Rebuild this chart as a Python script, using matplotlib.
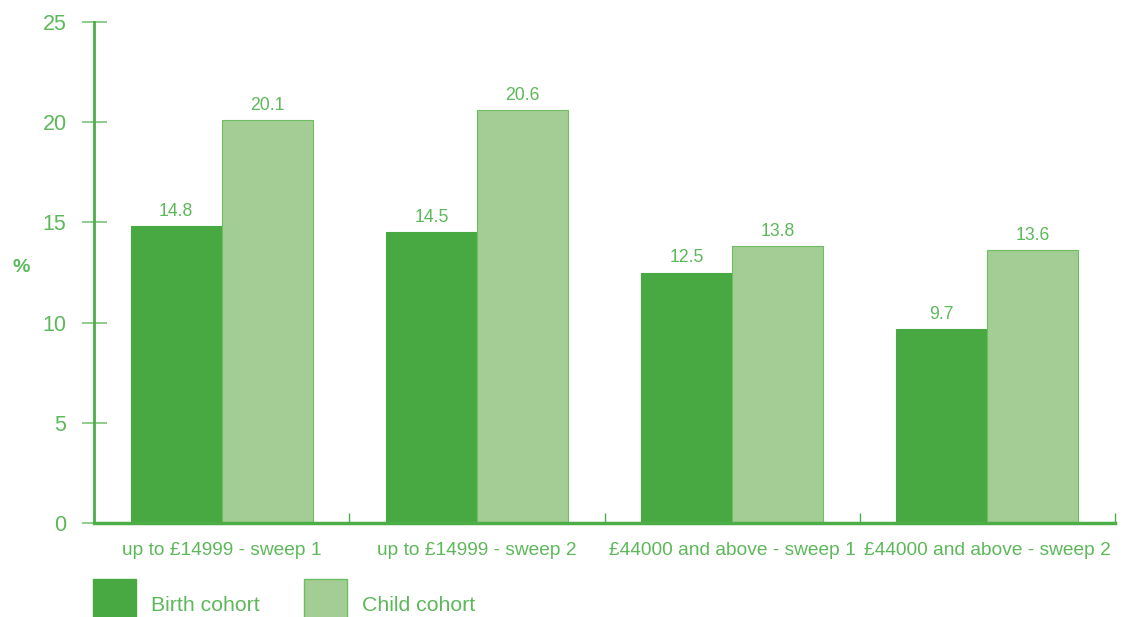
import matplotlib
matplotlib.use("Agg")
import matplotlib.pyplot as plt
import numpy as np
from matplotlib.patches import Patch

categories = ["up to £14999 - sweep 1", "up to £14999 - sweep 2",
              "£44000 and above - sweep 1", "£44000 and above - sweep 2"]
birth_cohort = [14.8, 14.5, 12.5, 9.7]
child_cohort = [20.1, 20.6, 13.8, 13.6]
series_names = ["Birth cohort", "Child cohort"]
y_ticks = [0, 5, 10, 15, 20, 25]

dark = "#48A942"
light = "#A3CD94"
light_edge = "#6DBE63"
text_col = "#5DB85A"
axis_col = "#4DAE48"

plt.rcParams["font.family"] = ["Liberation Sans", "DejaVu Sans"]

fig = plt.figure(figsize=(11.3, 6.17), dpi=100)
ax = fig.add_axes([94 / 1130, 1 - 523 / 617, (1115 - 94) / 1130, (523 - 22) / 617])

x = np.arange(len(categories))
w = 0.357
b1 = ax.bar(x - w / 2, birth_cohort, w, color=dark, edgecolor=dark, linewidth=0.8)
b2 = ax.bar(x + w / 2, child_cohort, w, color=light, edgecolor=light_edge, linewidth=0.8)

for bars in (b1, b2):
    for r in bars:
        ax.text(r.get_x() + r.get_width() / 2, r.get_height() + 0.3, f"{r.get_height():.1f}",
                ha="center", va="bottom", fontsize=12.7, color=text_col)

ax.set_xlim(-0.5, len(categories) - 0.5)
ax.set_ylim(0, 25)

ax.spines["top"].set_visible(False)
ax.spines["right"].set_visible(False)
ax.spines["left"].set_color(axis_col)
ax.spines["left"].set_linewidth(2)
ax.spines["bottom"].set_color(axis_col)
ax.spines["bottom"].set_linewidth(2.5)

ax.set_yticks(y_ticks)
ax.tick_params(axis="y", direction="inout", length=18, width=1.2, color="#7CC475",
               labelsize=15.5, labelcolor=text_col, pad=10.8)

ax.set_xticks(np.arange(len(categories) + 1) - 0.5)
ax.set_xticklabels([])
ax.tick_params(axis="x", which="major", direction="in", length=7, width=1, color=axis_col)
ax.set_xticks(x, minor=True)
ax.set_xticklabels(categories, minor=True)
ax.tick_params(axis="x", which="minor", length=0, labelsize=13.8, labelcolor=text_col, pad=13.5)

ax.set_ylabel("%", rotation=0, fontsize=14, color=text_col, fontweight="bold", va="center")
ax.yaxis.set_label_coords(-0.071, 0.51)

handles = [Patch(facecolor=dark, edgecolor=dark), Patch(facecolor=light, edgecolor=light_edge)]
leg = fig.legend(handles, series_names, loc="upper left", bbox_to_anchor=(93 / 1130, 1 - 579 / 617),
                 ncol=2, frameon=False, fontsize=15.3, handlelength=2.0, handleheight=3.4,
                 handletextpad=0.72, columnspacing=2.1, borderpad=0, borderaxespad=0)
for t in leg.get_texts():
    t.set_color(text_col)

fig.savefig("out.png", dpi=100)
